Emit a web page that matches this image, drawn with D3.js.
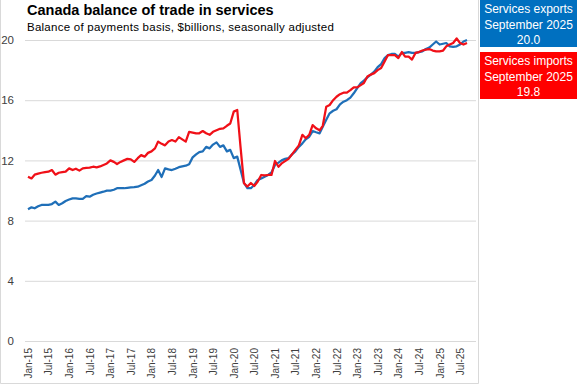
<!DOCTYPE html>
<html>
<head>
<meta charset="utf-8">
<script src="https://cdn.jsdelivr.net/npm/d3@7"></script>
<style>
body{margin:0;background:#fff;}
svg{display:block;font-family:"Liberation Sans",Arial,sans-serif;}
</style>
</head>
<body>
<div id="chart-area"></div>
<script>
// monthly, Jan-15 .. Sep-25
let firstMonth="Jan-15";

let exportsData=[
	8.75,8.88,8.82,8.95,9.04,9.04,9.04,9.1,9.26,9.04,9.15,9.3,
	9.4,9.48,9.48,9.45,9.45,9.63,9.59,9.72,9.8,9.86,9.92,9.99,
	9.99,10.05,10.15,10.15,10.15,10.18,10.2,10.22,10.25,10.35,10.45,10.6,
	10.7,11.0,11.36,10.9,11.47,11.4,11.36,11.45,11.55,11.6,11.65,11.75,
	12.2,12.4,12.55,12.6,12.9,12.8,13.05,13.2,12.9,13.0,12.6,12.7,
	12.15,12.25,11.4,10.5,10.15,10.15,10.37,10.7,10.8,10.92,11.03,11.2,
	11.7,11.85,12.0,12.1,12.15,12.4,12.6,12.9,13.13,13.4,13.57,13.95,
	13.87,13.8,14.24,14.7,15.13,15.3,15.4,15.72,15.9,16.0,16.17,16.46,
	16.8,17.14,17.3,17.52,17.7,17.9,18.2,18.4,18.8,19.0,19.07,19.07,
	18.9,19.14,19.15,19.2,19.15,19.14,19.2,19.25,19.4,19.5,19.7,19.9,
	19.7,19.75,19.8,19.58,19.55,19.58,19.7,19.9,20.0
];

let importsData=[
	10.92,10.8,11.05,11.12,11.18,11.22,11.25,11.36,11.05,11.18,11.22,11.25,
	11.47,11.36,11.45,11.32,11.47,11.5,11.52,11.58,11.54,11.6,11.7,11.8,
	12.0,11.9,11.76,11.9,12.0,12.1,12.07,11.9,12.15,12.35,12.25,12.5,
	12.6,12.8,13.25,13.1,13.0,13.25,13.35,13.25,13.55,13.4,13.25,13.9,
	13.85,13.8,13.8,13.95,13.8,13.7,13.9,14.0,14.1,14.13,14.3,14.45,
	15.24,15.35,12.9,10.48,10.26,10.5,10.3,10.6,11.03,11.0,11.03,11.03,
	11.96,11.58,11.8,11.95,12.1,12.4,12.7,13.0,13.7,13.47,13.7,14.35,
	14.13,14.0,14.3,15.57,15.68,16.0,16.23,16.4,16.5,16.5,16.67,16.85,
	16.85,17.0,17.14,17.58,17.7,17.8,18.0,18.14,18.58,19.0,19.0,19.0,
	18.8,19.2,18.9,18.9,18.7,19.14,19.2,19.3,19.36,19.4,19.3,19.25,
	19.25,19.3,19.58,19.7,19.8,20.1,19.8,19.7,19.8
];

let tickLabels=["Jan-15","Jul-15","Jan-16","Jul-16","Jan-17","Jul-17","Jan-18","Jul-18",
	"Jan-19","Jul-19","Jan-20","Jul-20","Jan-21","Jul-21","Jan-22","Jul-22",
	"Jan-23","Jul-23","Jan-24","Jul-24","Jan-25","Jul-25"];
let yTicks=[0,4,8,12,16,20];

let legendItems=[
	{lines:["Services exports","September 2025","20.0"],color:"#0070c0"},
	{lines:["Services imports","September 2025","19.8"],color:"#ff0000"}
];

let W=577,H=385;
let parseMonth=d3.timeParse("%b-%y");
let start=parseMonth(firstMonth);
let months=exportsData.map((d,i)=>d3.timeMonth.offset(start,i));

let svg=d3.select("#chart-area").append("svg")
	.attr("width",W)
	.attr("height",H);

// chart frame
svg.append("path")
	.attr("d","M0.5,0 V383.5 H478.5 V0")
	.attr("fill","none")
	.attr("stroke","#d9d9d9");

//---------SCALES--------------
let x=d3.scaleTime()
	.domain([months[0],months[months.length-1]])
	.range([28,467]);

let y=d3.scaleLinear()
	.domain([0,20])
	.range([341,40]);

//-------GRID + Y AXIS---------
let yAxis=d3.axisLeft(y)
	.tickValues(yTicks)
	.tickSize(-451)
	.tickPadding(10)
	.tickFormat(d3.format("d"));

let yAxisGroup=svg.append("g")
	.attr("transform","translate(25,0)")
	.call(yAxis);
yAxisGroup.select(".domain").remove();
yAxisGroup.selectAll(".tick line").attr("stroke","#d9d9d9");
yAxisGroup.selectAll(".tick text")
	.attr("font-size","11.5px")
	.attr("fill","#404040")
	.attr("x",-11);

//-------X AXIS----------------
let xAxis=d3.axisBottom(x)
	.tickValues(tickLabels.map(parseMonth))
	.tickSize(0)
	.tickFormat(d3.timeFormat("%b-%y"));

let xAxisGroup=svg.append("g")
	.attr("transform","translate(0,341)")
	.call(xAxis);
xAxisGroup.select(".domain").remove();
xAxisGroup.selectAll(".tick text")
	.attr("transform","rotate(-90)")
	.attr("text-anchor","end")
	.attr("x",-7)
	.attr("y",0)
	.attr("dy","0.35em")
	.attr("font-size","10px")
	.attr("fill","#404040");

//--------LINES----------------
let line=d3.line()
	.x((d,i)=>x(months[i]))
	.y(d=>y(d));

svg.append("path")
	.datum(exportsData)
	.attr("fill","none")
	.attr("stroke","#1f6fb8")
	.attr("stroke-width",2.25)
	.attr("stroke-linejoin","round")
	.attr("d",line);

svg.append("path")
	.datum(importsData)
	.attr("fill","none")
	.attr("stroke","#f01018")
	.attr("stroke-width",2.25)
	.attr("stroke-linejoin","round")
	.attr("d",line);

//------TITLES-----------------
svg.append("text")
	.attr("x",27)
	.attr("y",15)
	.attr("font-size","14.5px")
	.attr("font-weight","bold")
	.attr("fill","#000")
	.text("Canada balance of trade in services");

svg.append("text")
	.attr("x",27)
	.attr("y",31)
	.attr("font-size","11.5px")
	.attr("letter-spacing","0.25px")
	.attr("fill","#000")
	.text("Balance of payments basis, $billions, seasonally adjusted");

//--------LEGEND BOXES---------
legendItems.forEach(function(item,index){
	let box=svg.append("g")
		.attr("transform","translate(480,"+(index*52)+")");
	box.append("rect")
		.attr("width",97)
		.attr("height",47)
		.attr("fill",item.color);
	item.lines.forEach(function(t,j){
		box.append("text")
			.attr("x",48.5)
			.attr("y",13+j*15.6)
			.attr("text-anchor","middle")
			.attr("font-size","12px")
			.attr("fill","#fff")
			.text(t);
	});
});
</script>
</body>
</html>
